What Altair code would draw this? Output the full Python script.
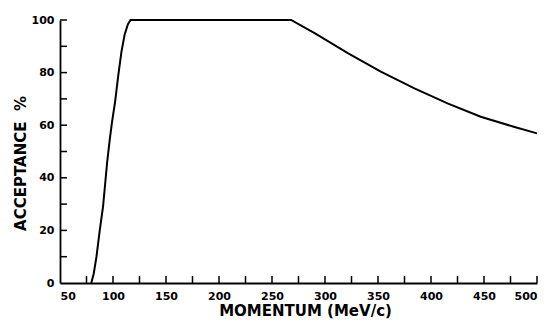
import altair as alt
import pandas as pd

# Curve
momentum = [79.5, 81.9, 84.4, 87.5, 90.6, 94.5, 96.9, 99.0, 102.0, 105.0, 108.0, 111.0,
            114.0, 116.5, 200.0, 268.0, 290.6, 321.9, 353.1, 384.4, 415.6, 446.9, 478.1, 500.0]
acceptance = [0.0, 3.7, 10.0, 20.0, 29.0, 46.0, 54.4, 61.0, 69.0, 79.0, 88.0, 94.5,
              98.3, 100.0, 100.0, 100.0, 94.9, 87.3, 80.3, 74.0, 68.3, 63.2, 59.4, 56.9]

x_label_values = [50, 100, 150, 200, 250, 300, 350, 400, 450, 500]
y_label_values = [0, 20, 40, 60, 80, 100]
x_tick_values = [75, 100, 125, 150, 175, 200, 225, 250, 275, 300, 325, 350, 375, 400,
                 425, 450, 475, 500]
y_tick_values = [10, 20, 30, 40, 50, 60, 70, 80, 90, 100]

curve = pd.DataFrame({"m": momentum, "a": acceptance})
xt = pd.DataFrame({"m": x_tick_values})
yt = pd.DataFrame({"a": y_tick_values})

W, H = 477, 263
FONT = "DejaVu Sans"

xscale = alt.Scale(domain=[50, 500], nice=False, zero=False)
yscale = alt.Scale(domain=[0, 100], nice=False)

xaxis = alt.Axis(values=x_label_values, ticks=False, tickSize=0, grid=False,
                 labelFont=FONT, labelFontWeight="bold", labelFontSize=11,
                 labelColor="black", labelPadding=7, domainColor="black", domainWidth=1.8,
                 title="MOMENTUM (MeV/c)", titleFont=FONT, titleFontSize=15,
                 titleFontWeight="bold", titleColor="black",
                 titleX=245, titleY=27, titleAnchor="middle", titleBaseline="middle",
                 titleAlign="center")
yaxis = alt.Axis(values=y_label_values, ticks=False, tickSize=0, grid=False,
                 labelFont=FONT, labelFontWeight="bold", labelFontSize=11,
                 labelColor="black", labelPadding=6, domainColor="black", domainWidth=1.8,
                 title="ACCEPTANCE\u00a0\u00a0%", titleFont=FONT, titleFontSize=15,
                 titleFontWeight="bold", titleColor="black",
                 titleX=-40, titleY=143, titleAngle=270, titleBaseline="middle",
                 titleAlign="center")

line = alt.Chart(curve).mark_line(color="black", strokeWidth=2).encode(
    x=alt.X("m:Q", scale=xscale, axis=xaxis),
    y=alt.Y("a:Q", scale=yscale, axis=yaxis),
)

xticks = alt.Chart(xt).mark_rule(color="black", strokeWidth=1.5).encode(
    x=alt.X("m:Q", scale=xscale),
    y=alt.value(H),
    y2=alt.value(H - 7),
)
yticks = alt.Chart(yt).mark_rule(color="black", strokeWidth=1.5).encode(
    y=alt.Y("a:Q", scale=yscale),
    x=alt.value(0),
    x2=alt.value(7),
)

chart = alt.layer(line, xticks, yticks).properties(
    width=W, height=H,
    autosize=alt.AutoSizeParams(type="none"),
    padding={"left": 52, "top": 12, "right": 11, "bottom": 38},
    background="white",
).configure_view(stroke=None)

chart.save("out.html", embed_options={"renderer": "svg", "actions": False})
